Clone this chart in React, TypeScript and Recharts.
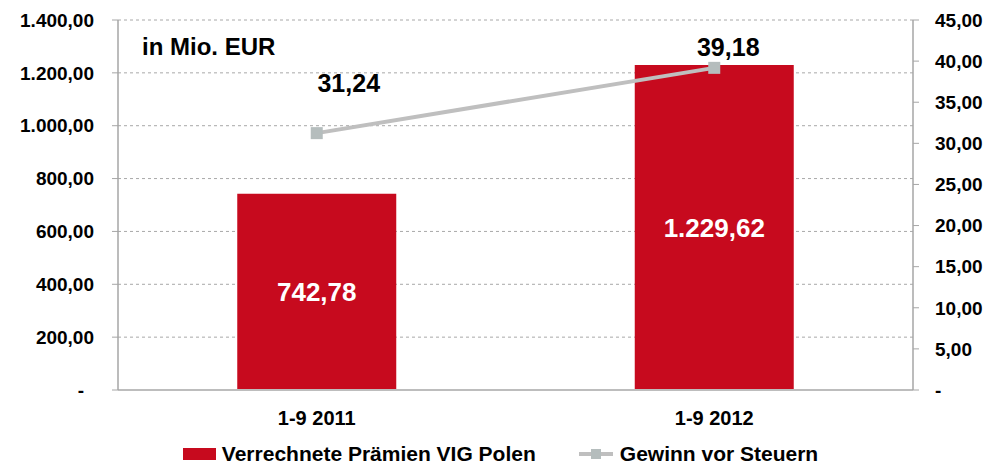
import { ComposedChart, Bar, Line, XAxis, YAxis, CartesianGrid, Legend, LabelList } from 'recharts';

const CATEGORIES = ['1-9 2011', '1-9 2012'];
const PRAEMIEN = [742.78, 1229.62];
const GEWINN = [31.24, 39.18];
const LEFT_TICKS = [0, 200, 400, 600, 800, 1000, 1200, 1400];
const RIGHT_TICKS = [0, 5, 10, 15, 20, 25, 30, 35, 40, 45];

const RED = '#c70a1e';
const GREY_LINE = '#bfbfbf';
const GREY_MARKER = '#b5bdbd';
const AXIS = '#a6a6a6';
const FONT = '"Liberation Sans", Arial, sans-serif';

// label offsets for the line values (Excel placed them by hand)
const LINE_LABEL_SHIFT = [
  { dx: 32, dy: -50 },
  { dx: 14, dy: -21 },
];

const data = CATEGORIES.map((name, i) => ({
  name,
  praemien: PRAEMIEN[i],
  gewinn: GEWINN[i],
}));

function fmt(v: number): string {
  if (v === 0) return '-';
  const [int, dec] = v.toFixed(2).split('.');
  return int.replace(/\B(?=(\d{3})+(?!\d))/g, '.') + ',' + dec;
}

function LeftTick(props: any) {
  const { x, y, payload } = props;
  const zero = payload.value === 0;
  return (
    <text x={zero ? x - 10 : x} y={y} dy="0.355em" textAnchor="end" fontSize={19} fontWeight="bold" fill="#000" fontFamily={FONT}>
      {fmt(payload.value)}
    </text>
  );
}

function RightTick(props: any) {
  const { x, y, payload } = props;
  return (
    <text x={x} y={y} dy="0.355em" textAnchor="start" fontSize={19} fontWeight="bold" fill="#000" fontFamily={FONT}>
      {fmt(payload.value)}
    </text>
  );
}

function LineLabel(props: any) {
  const { x, y, value, index } = props;
  const s = LINE_LABEL_SHIFT[index] ?? { dx: 0, dy: -20 };
  return (
    <text x={x + s.dx} y={y + s.dy} textAnchor="middle" dominantBaseline="central" fontSize={25} fontWeight="bold" fill="#000" fontFamily={FONT}>
      {fmt(value)}
    </text>
  );
}

function SquareDot(props: any) {
  const { cx, cy } = props;
  if (cx == null || cy == null) return null;
  return <rect x={cx - 6} y={cy - 6} width={12} height={12} fill={GREY_MARKER} />;
}

function renderLegend() {
  const text = { fontSize: 21, fontWeight: 'bold' as const, color: '#000', fontFamily: FONT };
  return (
    <div style={{ height: 40, display: 'flex', justifyContent: 'center', alignItems: 'center', paddingTop: 18, boxSizing: 'border-box' }}>
      <span style={{ display: 'inline-block', width: 33, height: 12, background: RED, marginRight: 6 }} />
      <span style={text}>Verrechnete Prämien VIG Polen</span>
      <svg width={34} height={14} style={{ marginLeft: 43, marginRight: 7 }}>
        <line x1={0} y1={7} x2={34} y2={7} stroke={GREY_LINE} strokeWidth={4} />
        <rect x={12} y={2} width={10} height={10} fill={GREY_MARKER} />
      </svg>
      <span style={text}>Gewinn vor Steuern</span>
    </div>
  );
}

export default function App() {
  return (
    <div style={{ position: 'absolute', left: 0, top: 0, width: 1001, height: 465, background: '#fff', fontFamily: FONT }}>
      <ComposedChart width={1001} height={465} data={data} margin={{ top: 20, right: 0, bottom: 0, left: 0 }} barCategoryGap="30%">
        <CartesianGrid yAxisId="left" vertical={false} stroke="#a8a8a8" strokeDasharray="3 3" />
        <XAxis
          dataKey="name"
          height={35}
          tickLine={false}
          tickSize={6}
          tickMargin={15}
          axisLine={{ stroke: '#bdbdbd', strokeWidth: 2 }}
          tick={{ fontSize: 20, fontWeight: 'bold', fill: '#000', fontFamily: FONT }}
        />
        <YAxis
          yAxisId="left"
          width={118}
          domain={[0, 1400]}
          ticks={LEFT_TICKS}
          interval={0}
          tickSize={6}
          tickMargin={18}
          axisLine={{ stroke: AXIS, strokeWidth: 1.5 }}
          tickLine={{ stroke: AXIS }}
          tick={<LeftTick />}
        />
        <YAxis
          yAxisId="right"
          orientation="right"
          width={88}
          domain={[0, 45]}
          ticks={RIGHT_TICKS}
          interval={0}
          tickSize={6}
          tickMargin={16}
          axisLine={{ stroke: AXIS, strokeWidth: 1.5 }}
          tickLine={{ stroke: AXIS }}
          tick={<RightTick />}
        />
        <Legend verticalAlign="bottom" content={renderLegend} wrapperStyle={{ left: 0, width: 1001 }} />
        <Bar yAxisId="left" dataKey="praemien" name="Verrechnete Prämien VIG Polen" fill={RED} isAnimationActive={false}>
          <LabelList dataKey="praemien" position="center" formatter={(v: any) => fmt(Number(v))} fill="#fff" fontSize={26} fontWeight="bold" fontFamily={FONT} />
        </Bar>
        <Line
          yAxisId="right"
          dataKey="gewinn"
          name="Gewinn vor Steuern"
          stroke={GREY_LINE}
          strokeWidth={4}
          dot={<SquareDot />}
          activeDot={false}
          isAnimationActive={false}
        >
          <LabelList dataKey="gewinn" content={<LineLabel />} />
        </Line>
      </ComposedChart>
      <div style={{ position: 'absolute', left: 142, top: 35, fontSize: 24, fontWeight: 'bold', lineHeight: 1, color: '#000' }}>
        in Mio. EUR
      </div>
    </div>
  );
}
